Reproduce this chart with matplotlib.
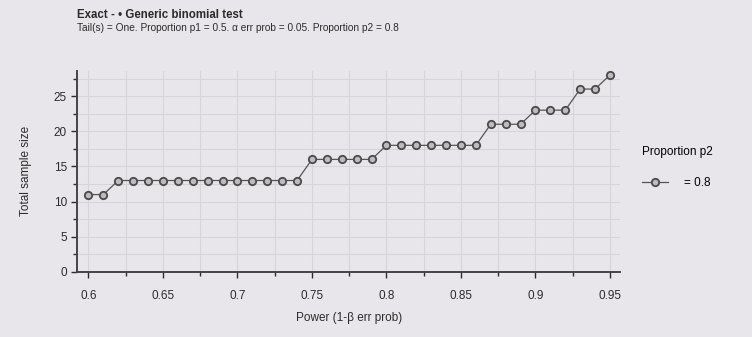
import matplotlib

matplotlib.use("Agg")
import matplotlib.pyplot as plt  # noqa: E402
from matplotlib.ticker import MultipleLocator  # noqa: E402

# Power (1-beta) values and the resulting total sample size for p2 = 0.8
power = [0.60, 0.61, 0.62, 0.63, 0.64, 0.65, 0.66, 0.67, 0.68, 0.69, 0.70, 0.71,
         0.72, 0.73, 0.74, 0.75, 0.76, 0.77, 0.78, 0.79, 0.80, 0.81, 0.82, 0.83,
         0.84, 0.85, 0.86, 0.87, 0.88, 0.89, 0.90, 0.91, 0.92, 0.93, 0.94, 0.95]
sample_size = [11, 11, 13, 13, 13, 13, 13, 13, 13, 13, 13, 13,
               13, 13, 13, 16, 16, 16, 16, 16, 18, 18, 18, 18,
               18, 18, 18, 21, 21, 21, 23, 23, 23, 26, 26, 28]
x_ticks = [0.6, 0.65, 0.7, 0.75, 0.8, 0.85, 0.9, 0.95]
x_tick_labels = ["0.6", "0.65", "0.7", "0.75", "0.8", "0.85", "0.9", "0.95"]
y_ticks = [0, 5, 10, 15, 20, 25]

plt.rcParams["font.family"] = ["Liberation Sans", "DejaVu Sans"]
BG = "#e8e6ea"
INK = "#2b2b2b"

fig = plt.figure(figsize=(7.52, 3.37), dpi=100, facecolor=BG)
ax = fig.add_axes([0.103, 0.193, 0.722, 0.597], facecolor=BG)

ax.plot(power, sample_size, color="#555555", linewidth=0.9, marker="o",
        markersize=5.3, markerfacecolor="#bdbbbf", markeredgecolor="#4a4a4a",
        markeredgewidth=1.3, label="= 0.8", zorder=3)

ax.set_xlim(0.5926, 0.957)
ax.set_ylim(0, 28.6)
ax.set_xticks(x_ticks)
ax.set_xticklabels(x_tick_labels)
ax.set_yticks(y_ticks)
ax.xaxis.set_minor_locator(MultipleLocator(0.025))
ax.yaxis.set_minor_locator(MultipleLocator(2.5))
ax.grid(True, which="both", color="#d6d4d8", linewidth=0.8, zorder=0)
ax.tick_params(which="both", direction="out", colors=INK, labelsize=8.5, length=4, width=1)
ax.tick_params(axis="x", which="major", pad=9)
ax.tick_params(which="minor", length=3)
for side in ("top", "right"):
    ax.spines[side].set_visible(False)
for side in ("left", "bottom"):
    ax.spines[side].set_color("#444444")
    ax.spines[side].set_linewidth(1.4)

ax.set_xlabel("Power (1-β err prob)", fontsize=8.5, color=INK, labelpad=7)
ax.set_ylabel("Total sample size", fontsize=8.5, color=INK, labelpad=16)

fig.text(0.103, 0.955, "Exact - • Generic binomial test", fontsize=8.3,
         fontweight="bold", color=INK, ha="left", va="center")
fig.text(0.103, 0.917,
         "Tail(s) = One. Proportion p1 = 0.5. α err prob = 0.05. Proportion p2 = 0.8",
         fontsize=7.3, color=INK, ha="left", va="center")

leg = ax.legend(title="Proportion p2", loc="center left", bbox_to_anchor=(1.02, 0.52),
                frameon=False, fontsize=8.5, title_fontsize=8.5, handlelength=2.2,
                handletextpad=1.4, labelspacing=0.8)
leg._legend_box.align = "left"
leg._legend_box.sep = 14

fig.savefig("out.png", dpi=100, facecolor=BG)
